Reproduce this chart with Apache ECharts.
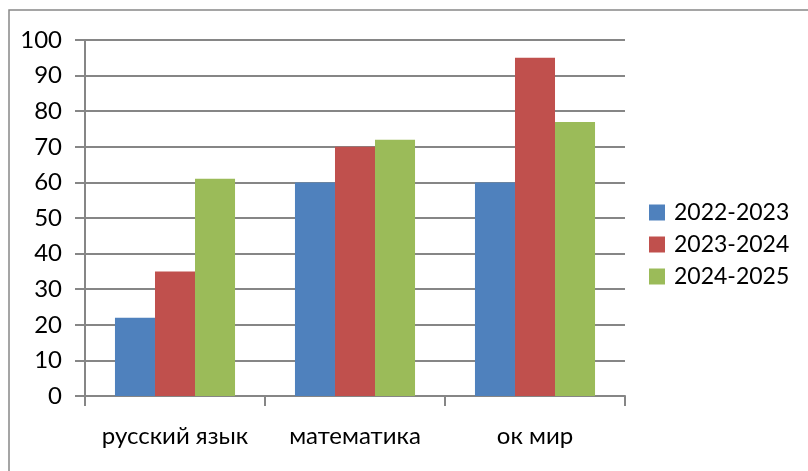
<!DOCTYPE html>
<html>
<head>
<meta charset="utf-8">
<script src="https://cdn.jsdelivr.net/npm/echarts@6/dist/echarts.min.js"></script>
<style>
html,body{margin:0;padding:0;background:#fff;}
#c{width:808px;height:471px;}
</style>
</head>
<body>
<div id="c"></div>
<script>
var categories = ['русский язык', 'математика', 'ок мир'];
var seriesNames = ['2022-2023', '2023-2024', '2024-2025'];
var values2022 = [22, 60, 60];
var values2023 = [35, 70, 95];
var values2024 = [61, 72, 77];
var yTicks = [0, 10, 20, 30, 40, 50, 60, 70, 80, 90, 100];

var colors = ['#4F81BD', '#C0504D', '#9BBB59'];
var FONT = 'Lato';
var chart = echarts.init(document.getElementById('c'), null, {renderer: 'canvas'});
var dataSets = [values2022, values2023, values2024];
chart.setOption({
  animation: false,
  backgroundColor: '#fff',
  color: colors,
  graphic: [{
    type: 'rect',
    shape: {x: 9, y: 10, width: 1000, height: 1000},
    style: {fill: 'none', stroke: '#888', lineWidth: 1.5},
    z: -1
  }],
  grid: {left: 85, right: 183, top: 40, bottom: 75},
  legend: {
    orient: 'vertical',
    left: 644,
    top: 196,
    itemWidth: 16,
    itemHeight: 16,
    itemGap: 9,
    icon: 'rect',
    textStyle: {fontFamily: FONT, fontSize: 23, color: '#000', lineHeight: 22, padding: [0, 0, 0, 4]},
    data: seriesNames
  },
  xAxis: {
    type: 'category',
    data: categories,
    axisLine: {lineStyle: {color: '#868686', width: 2}},
    axisTick: {show: true, length: 10, interval: 0, lineStyle: {color: '#868686', width: 2}},
    axisLabel: {fontFamily: FONT, fontSize: 24, color: '#000', margin: 28, interval: 0}
  },
  yAxis: {
    type: 'value',
    min: yTicks[0],
    max: yTicks[yTicks.length - 1],
    interval: 10,
    axisLine: {show: true, lineStyle: {color: '#868686', width: 2}},
    axisTick: {show: true, length: 10, lineStyle: {color: '#868686', width: 2}},
    splitLine: {show: true, lineStyle: {color: '#868686', width: 2}},
    axisLabel: {fontFamily: FONT, fontSize: 24, color: '#000', margin: 23}
  },
  series: seriesNames.map(function (n, i) {
    return {
      name: n,
      type: 'bar',
      data: dataSets[i],
      barGap: '0%',
      barCategoryGap: '33.3%'
    };
  })
});
</script>
</body>
</html>
